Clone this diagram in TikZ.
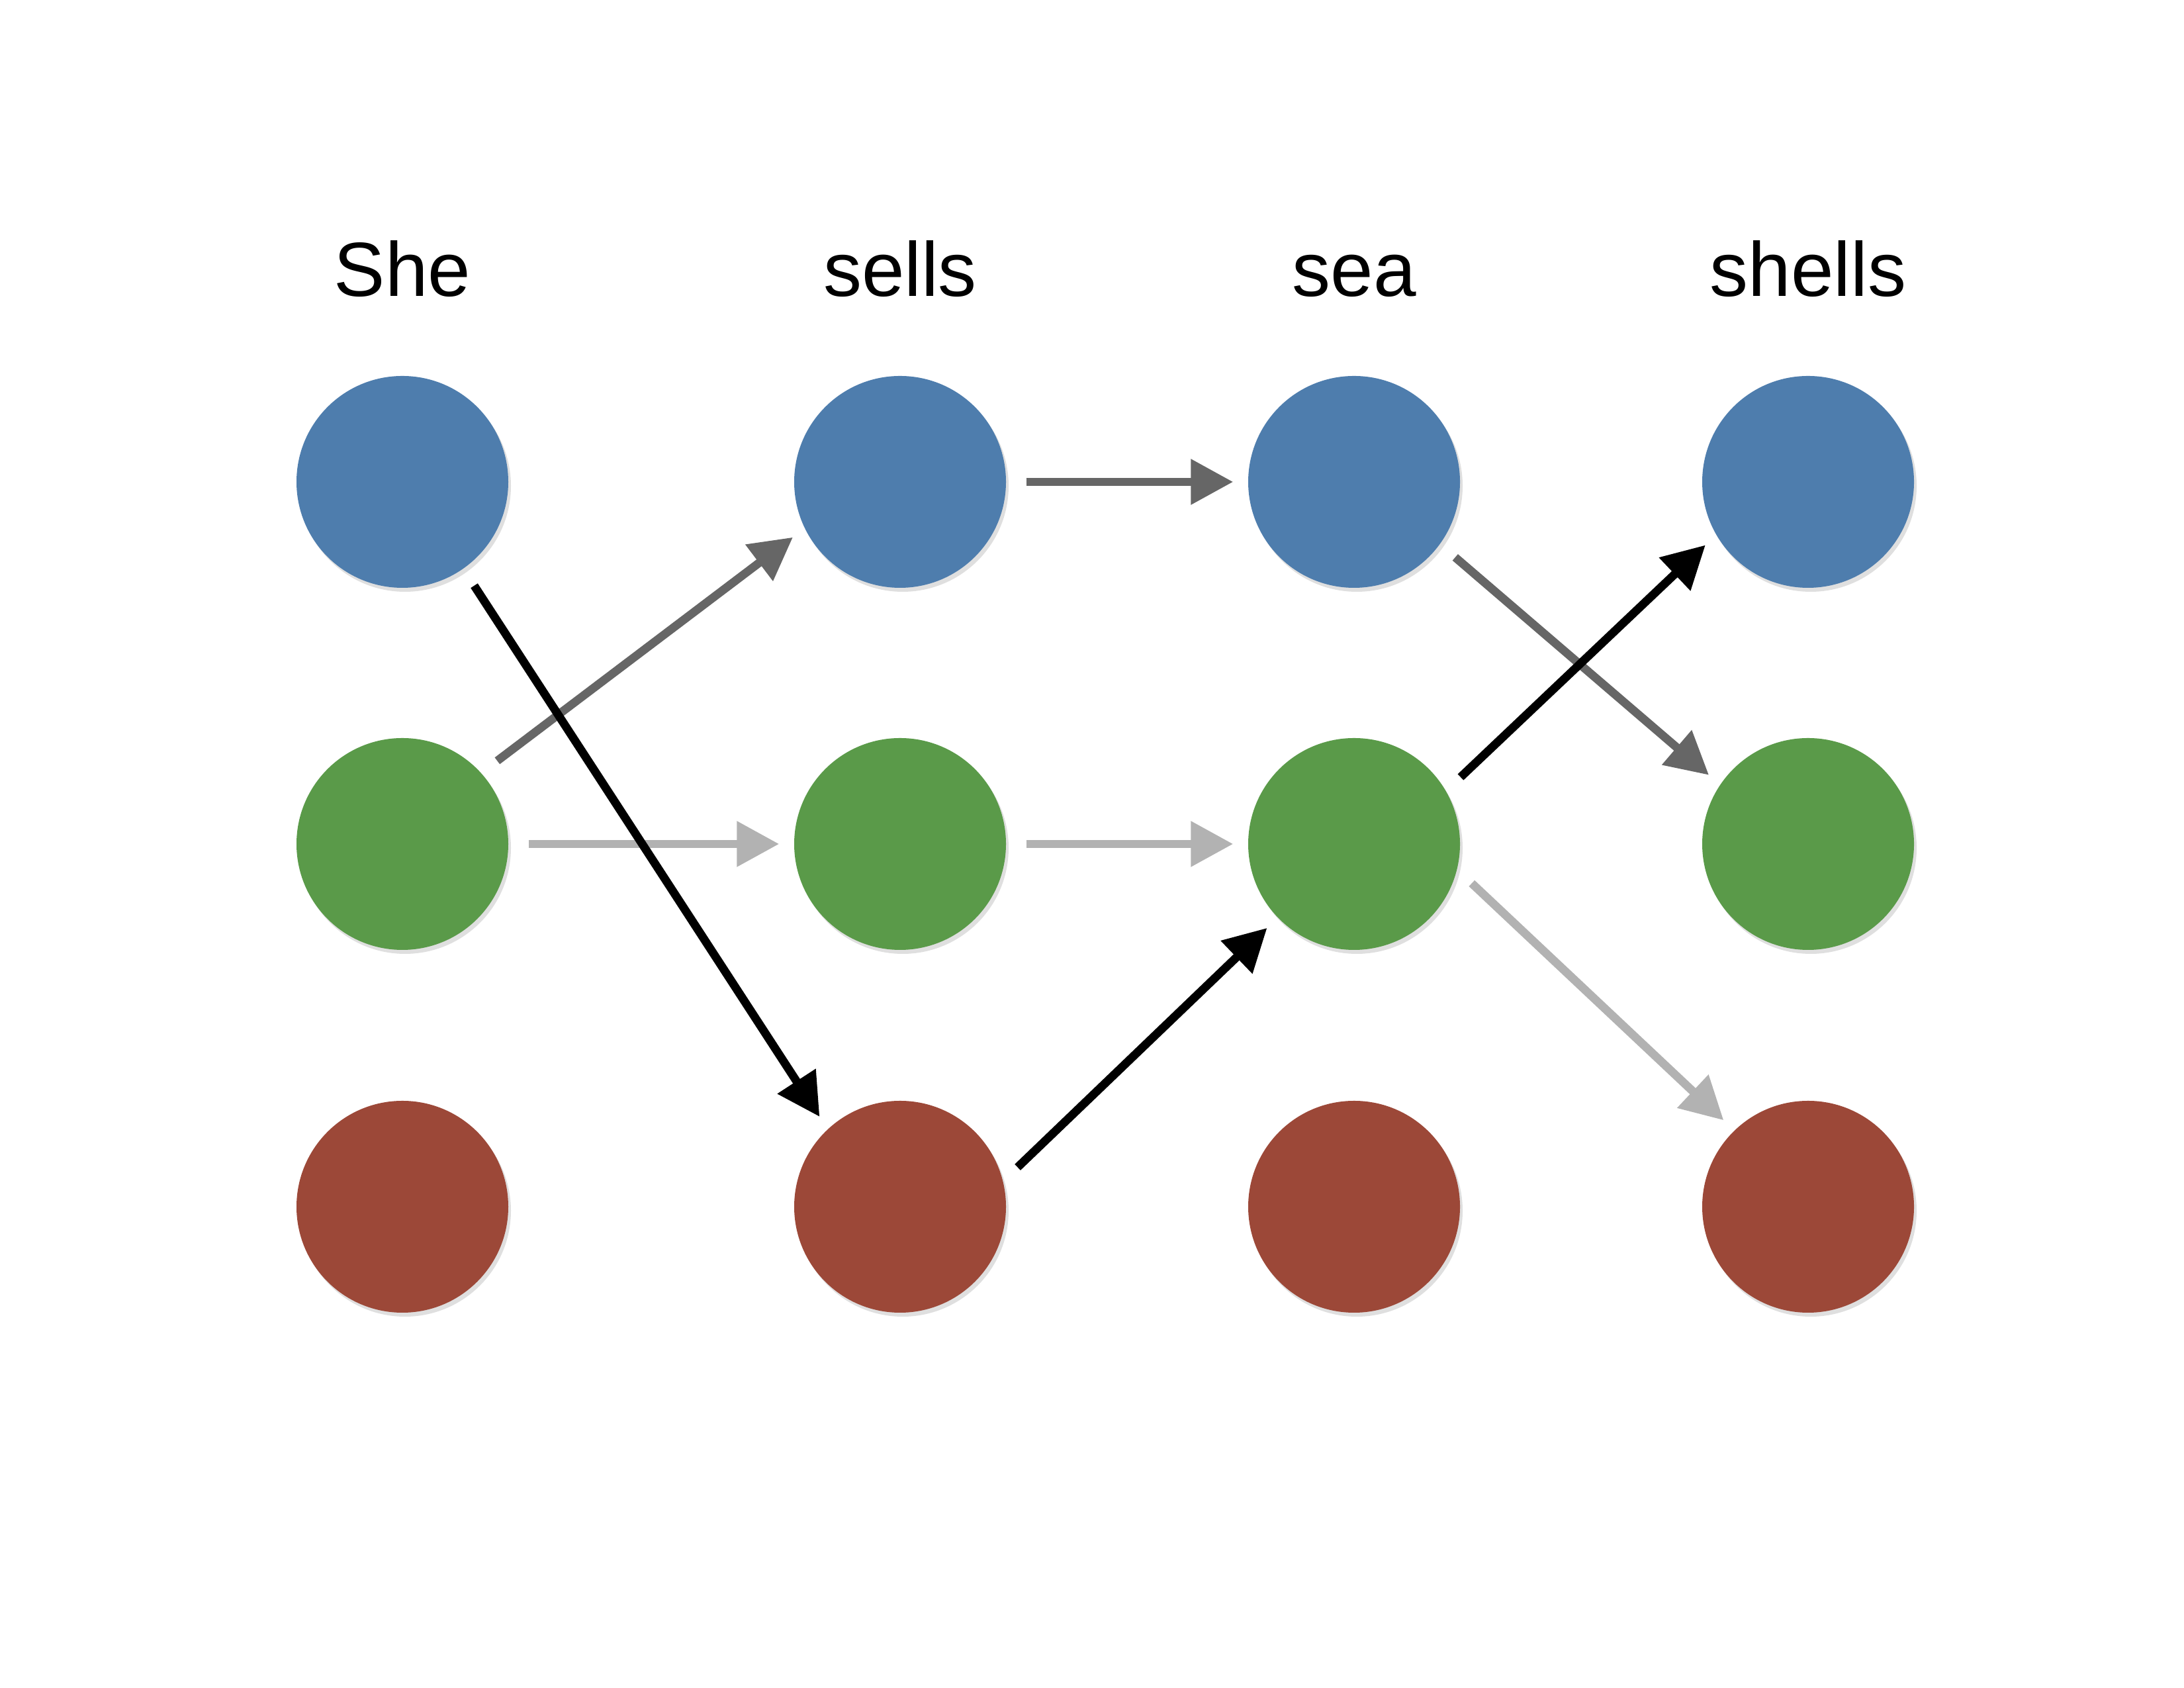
\documentclass[tikz,border=0pt]{standalone}
\usepackage{fontspec}
\setmainfont{Liberation Sans}
\usepackage{tikz}
\usetikzlibrary{arrows.meta,shadows}

\definecolor{blueball}{HTML}{4E7DAD}
\definecolor{greenball}{HTML}{5A9A49}
\definecolor{redball}{HTML}{9C4838}

\begin{document}
\begin{tikzpicture}
      [word/.style={anchor=base,font=\fontsize{33}{40}\selectfont},
       ball/.style={circle,minimum size=3.2cm,inner sep=0pt,
         drop shadow={opacity=0.25,shadow xshift=0.04cm,shadow yshift=-0.06cm}},
       arr/.style={line width=3.6pt,-{Triangle[length=0.64cm,width=0.66cm]},shorten <=0.3cm,shorten >=0.22cm},
       dark/.style={arr,black},
       mid/.style={arr,black!60},
       light/.style={arr,black!30}]
        \useasboundingbox (0,0) rectangle (33,25.5);

        \node[word] (la) at (6.08,21.02) {She};
        \node[word] (lb) at (13.60,21.02) {sells};
        \node[word] (lc) at (20.46,21.02) {sea};
        \node[word] (ld) at (27.32,21.02) {shells};

        \node[ball,fill=blueball] (a1) at (6.08,18.22) {};
        \node[ball,fill=greenball] (a2) at (6.08,12.75) {};
        \node[ball,fill=redball] (a3) at (6.08,7.27) {};
        \node[ball,fill=blueball] (b1) at (13.60,18.22) {};
        \node[ball,fill=greenball] (b2) at (13.60,12.75) {};
        \node[ball,fill=redball] (b3) at (13.60,7.27) {};
        \node[ball,fill=blueball] (c1) at (20.46,18.22) {};
        \node[ball,fill=greenball] (c2) at (20.46,12.75) {};
        \node[ball,fill=redball] (c3) at (20.46,7.27) {};
        \node[ball,fill=blueball] (d1) at (27.32,18.22) {};
        \node[ball,fill=greenball] (d2) at (27.32,12.75) {};
        \node[ball,fill=redball] (d3) at (27.32,7.27) {};

        \draw[light] (a2.east) -- (b2.west);
        \draw[light] (b2.east) -- (c2.west);
        \draw[light] (c2.-14) -- (d3.134);
        \draw[mid] (a2.42) -- (b1.206);
        \draw[mid] (b1.east) -- (c1.west);
        \draw[mid] (c1.-36) -- (d2.146);
        \draw[dark] (a1.-55) -- (b3.133);
        \draw[dark] (b3.14) -- (c2.224);
        \draw[dark] (c2.30) -- (d1.210);

      \end{tikzpicture}
\end{document}
